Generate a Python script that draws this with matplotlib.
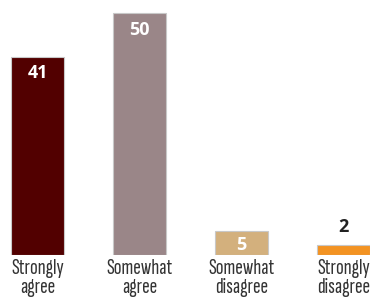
import matplotlib.pyplot as plt

categories = ["Strongly\nagree", "Somewhat\nagree", "Somewhat\ndisagree", "Strongly\ndisagree"]
values = [41, 50, 5, 2]
colors = ["#520000", "#9a8688", "#d3b07d", "#f39322"]
label_colors = ["white", "white", "white", "#222222"]

fig = plt.figure(figsize=(3.7, 3.05), dpi=100)
ax = fig.add_axes([0, 50 / 305, 1, 255 / 305])

x = list(range(len(values)))
ax.bar(x, values, width=0.51, color=colors, edgecolor="#c8c8c8", linewidth=0.8)

ax.set_xlim(-37.5 / 102, (370 - 37.5) / 102)
ax.set_ylim(0, 255 / 4.84)
ax.axis("off")

for i, v in enumerate(values):
    # value labels: inside the bar, or above it when the bar is too short
    if v > 10:
        dy = -12
    elif v > 3:
        dy = -10
    else:
        dy = 13
    ax.annotate(str(v), (i, v), xytext=(0, dy), textcoords="offset points",
                ha="center", va="center", fontsize=13, fontweight="bold",
                color=label_colors[i], family=["Open Sans", "DejaVu Sans"])
    ax.annotate(categories[i], (i, 0), xytext=(0, -3), textcoords="offset points",
                ha="center", va="top", fontsize=16.5, color="#333333",
                fontweight="light",
                family=["Sofia Sans Extra Condensed", "DejaVu Sans"],
                linespacing=1.0, annotation_clip=False)

fig.savefig("out.png", dpi=100)
